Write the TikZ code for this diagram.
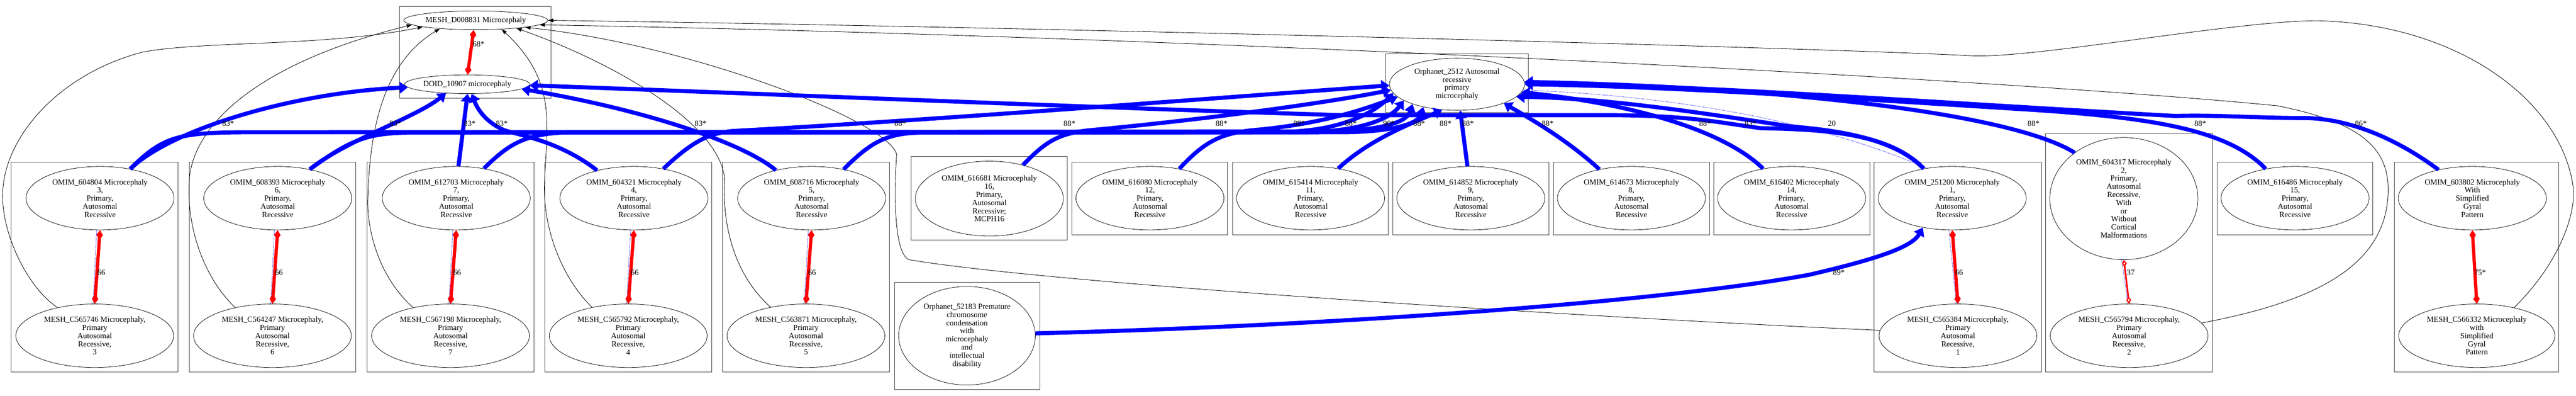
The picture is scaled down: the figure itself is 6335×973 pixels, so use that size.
\documentclass[tikz,border=0pt]{standalone}
\usepackage{fontspec}
\setmainfont{Liberation Serif}
\usetikzlibrary{shapes.geometric,arrows.meta}
\newcommand\diseasefont{\fontsize{19.3}{20}\selectfont}
\tikzset{
  grp/.style={draw=black!75, line width=1.3pt},
  disease/.style={ellipse, draw, line width=1pt, inner xsep=-20pt, inner ysep=0pt, align=center, font=\diseasefont},
  omim/.style={disease, minimum width=364pt, minimum height=156pt},
  mesh/.style={disease, minimum width=388pt, minimum height=156pt},
  isa/.style={draw, line width=1.1pt, -{Triangle[length=13pt,width=9pt]}},
  maps/.style={draw=blue, line width=10pt, -{Triangle[length=20pt,width=28pt]}},
  same/.style={draw=red, line width=8pt, {Diamond[length=24pt,width=16pt]}-{Diamond[length=24pt,width=16pt]}},
  weaksame/.style={draw=red, line width=4pt, {Diamond[open,fill=white,length=18pt,width=12pt,line width=3pt]}-{Diamond[open,fill=white,length=18pt,width=12pt,line width=3pt]}},
  weak/.style={draw=blue, line width=1.3pt, dotted},
  score/.style={font=\diseasefont, inner sep=0pt}
}
\begin{document}
\begin{tikzpicture}[x=1pt,y=-1pt]
\useasboundingbox (0,0) rectangle (6335,973);

\draw[grp] (982,16) rectangle (1355,241);
\draw[grp] (3407,132) rectangle (3759,277);
\draw[grp] (2200,694) rectangle (2558,957);
\draw[grp] (27,398) rectangle (438,914);
\draw[grp] (465,398) rectangle (875,914);
\draw[grp] (903,398) rectangle (1313,914);
\draw[grp] (1340,398) rectangle (1750,914);
\draw[grp] (1777,398) rectangle (2187,914);
\draw[grp] (2241,384) rectangle (2625,590);
\draw[grp] (2636,398) rectangle (3019,577);
\draw[grp] (3031,398) rectangle (3414,577);
\draw[grp] (3425,398) rectangle (3809,577);
\draw[grp] (3820,398) rectangle (4204,577);
\draw[grp] (4215,398) rectangle (4598,577);
\draw[grp] (4609,398) rectangle (5020,914);
\draw[grp] (5030,328) rectangle (5441,914);
\draw[grp] (5452,398) rectangle (5835,577);
\draw[grp] (5888,398) rectangle (6293,914);

\node[disease, minimum width=354pt, minimum height=46pt] (mesh0) at (1170,50) {MESH\_D008831 Microcephaly};
\node[disease, minimum width=308pt, minimum height=46pt] (doid) at (1149,207) {DOID\_10907 microcephaly};
\node[disease, minimum width=332pt, minimum height=128pt] (orph) at (3583,207) {Orphanet\_2512 Autosomal\\recessive\\primary\\microcephaly};
\node[disease, minimum width=336pt, minimum height=242pt] (orph52) at (2378,825) {Orphanet\_52183 Premature\\chromosome\\condensation\\with\\microcephaly\\and\\intellectual\\disability};

\node[omim] (o1) at (246,487) {OMIM\_604804 Microcephaly\\3,\\Primary,\\Autosomal\\Recessive};
\node[omim] (o2) at (683,487) {OMIM\_608393 Microcephaly\\6,\\Primary,\\Autosomal\\Recessive};
\node[omim] (o3) at (1122,487) {OMIM\_612703 Microcephaly\\7,\\Primary,\\Autosomal\\Recessive};
\node[omim] (o4) at (1559,487) {OMIM\_604321 Microcephaly\\4,\\Primary,\\Autosomal\\Recessive};
\node[omim] (o5) at (1996,487) {OMIM\_608716 Microcephaly\\5,\\Primary,\\Autosomal\\Recessive};
\node[omim, minimum height=184pt] (o6) at (2433,488) {OMIM\_616681 Microcephaly\\16,\\Primary,\\Autosomal\\Recessive;\\MCPH16};
\node[omim] (o7) at (2828,487) {OMIM\_616080 Microcephaly\\12,\\Primary,\\Autosomal\\Recessive};
\node[omim] (o8) at (3223,487) {OMIM\_615414 Microcephaly\\11,\\Primary,\\Autosomal\\Recessive};
\node[omim] (o9) at (3617,487) {OMIM\_614852 Microcephaly\\9,\\Primary,\\Autosomal\\Recessive};
\node[omim] (o10) at (4012,487) {OMIM\_614673 Microcephaly\\8,\\Primary,\\Autosomal\\Recessive};
\node[omim] (o11) at (4406,487) {OMIM\_616402 Microcephaly\\14,\\Primary,\\Autosomal\\Recessive};
\node[omim] (o12) at (4801,487) {OMIM\_251200 Microcephaly\\1,\\Primary,\\Autosomal\\Recessive};
\node[omim, minimum height=300pt] (o13) at (5223,488) {OMIM\_604317 Microcephaly\\2,\\Primary,\\Autosomal\\Recessive,\\With\\or\\Without\\Cortical\\Malformations};
\node[omim] (o14) at (5644,487) {OMIM\_616486 Microcephaly\\15,\\Primary,\\Autosomal\\Recessive};
\node[omim] (o15) at (6080,487) {OMIM\_603802 Microcephaly\\With\\Simplified\\Gyral\\Pattern};

\node[mesh] (m1) at (233,825) {MESH\_C565746 Microcephaly,\\Primary\\Autosomal\\Recessive,\\3};
\node[mesh] (m2) at (670,825) {MESH\_C564247 Microcephaly,\\Primary\\Autosomal\\Recessive,\\6};
\node[mesh] (m3) at (1108,825) {MESH\_C567198 Microcephaly,\\Primary\\Autosomal\\Recessive,\\7};
\node[mesh] (m4) at (1545,825) {MESH\_C565792 Microcephaly,\\Primary\\Autosomal\\Recessive,\\4};
\node[mesh] (m5) at (1982,825) {MESH\_C563871 Microcephaly,\\Primary\\Autosomal\\Recessive,\\5};
\node[mesh] (m12) at (4815,825) {MESH\_C565384 Microcephaly,\\Primary\\Autosomal\\Recessive,\\1};
\node[mesh] (m13) at (5236,825) {MESH\_C565794 Microcephaly,\\Primary\\Autosomal\\Recessive,\\2};
\node[mesh, minimum width=384pt] (m15) at (6091,825) {MESH\_C566332 Microcephaly\\with\\Simplified\\Gyral\\Pattern};

\draw[isa] (m1.143) .. controls (60,700) and (0,560) .. (7,467) .. controls (15,330) and (150,180) .. (351,128) .. controls (500,100) and (800,115) .. (mesh0.187);
\draw[isa] (m2.143) .. controls (500,680) and (460,560) .. (465,450) .. controls (470,300) and (650,150) .. (mesh0.184);
\draw[isa] (m3.143) .. controls (930,680) and (900,560) .. (905,480) .. controls (910,300) and (950,150) .. (mesh0.193);
\draw[isa] (m4.142) .. controls (1380,680) and (1335,560) .. (1339,450) .. controls (1345,300) and (1370,200) .. (mesh0.341);
\draw[isa] (m5.141) .. controls (1810,680) and (1775,560) .. (1782,440) .. controls (1770,300) and (1500,150) .. (mesh0.349);
\draw[isa] (m12.176) .. controls (4000,785) and (2600,700) .. (2235,638) .. controls (2195,620) and (2200,450) .. (2205,380) .. controls (2190,300) and (1700,110) .. (mesh0.352);
\draw[isa] (m15.37) .. controls (6300,640) and (6335,520) .. (6328,460) .. controls (6300,250) and (6050,60) .. (5702,51) .. controls (5500,50) and (5000,145) .. (4847,137) .. controls (4500,118) and (2500,65) .. (mesh0.east);
\draw[isa] (m13.10) .. controls (5700,740) and (5870,650) .. (5873,470) .. controls (5875,360) and (5800,300) .. (5601,260) .. controls (5000,200) and (3000,90) .. (mesh0.356);

\draw[maps] (o1.44) .. controls (420,318) and (720,228) .. (doid.183);
\draw[maps] (o1.44) .. controls (400,335) and (440,326) .. (600,325) -- (3150,324) .. controls (3300,323) and (3380,275) .. (orph.188);
\draw[maps] (o2.42) .. controls (850,345) and (1020,290) .. (doid.203);
\draw[maps] (o2.42) .. controls (860,345) and (900,328) .. (1000,326) -- (3200,325) .. controls (3350,324) and (3420,290) .. (orph.197);
\draw[maps] (o3.86) -- (doid.272);
\draw[maps] (o3.47) .. controls (1250,355) and (1290,328) .. (1400,325) -- (3250,323) .. controls (3400,322) and (3460,300) .. (orph.204);
\draw[maps] (o4.143) .. controls (1380,350) and (1290,335) .. (1240,320) .. controls (1195,300) and (1175,270) .. (doid.295);
\draw[maps] (o4.45) .. controls (1700,350) and (1740,328) .. (1800,322) .. controls (2300,295) and (3000,240) .. (orph.181);
\draw[maps] (o5.142) .. controls (1820,345) and (1560,265) .. (doid.355);
\draw[maps] (o5.42) .. controls (2140,350) and (2180,328) .. (2260,326) -- (3300,325) .. controls (3440,324) and (3490,300) .. (orph.214);
\draw[maps] (o6.45) .. controls (2570,350) and (2600,328) .. (2680,320) .. controls (2950,295) and (3250,255) .. (orph.185);
\draw[maps] (o7.45) .. controls (2960,350) and (3000,328) .. (3080,320) .. controls (3250,305) and (3350,270) .. (orph.192);
\draw[maps] (o8.47) .. controls (3370,340) and (3480,300) .. (orph.240);
\draw[maps] (o9.96) -- (orph.277);
\draw[maps] (o10.138) .. controls (3850,340) and (3760,290) .. (orph.338);
\draw[maps] (o11.134) .. controls (4250,330) and (4050,260) .. (orph.353);
\draw[maps] (o12.134) .. controls (4650,330) and (4500,318) .. (4330,315) .. controls (4220,300) and (4150,283) .. (3950,283) -- (3300,283) .. controls (2700,265) and (2000,235) .. (doid.359);
\draw[maps] (o12.134) .. controls (4650,330) and (4480,318) .. (4400,310) .. controls (4200,280) and (3950,240) .. (orph.348);
\draw[weak] (orph.355) .. controls (4100,235) and (4450,290) .. (o12.130);
\draw[maps] (o13.137) .. controls (4950,280) and (4400,215) .. (orph.2);
\draw[maps] (o14.135) .. controls (5480,320) and (5300,290) .. (5000,270) .. controls (4600,245) and (4100,212) .. (orph.0);
\draw[maps] (o15.140) .. controls (5900,345) and (5780,290) .. (5664,290) .. controls (5550,290) and (5450,282) .. (5350,285) .. controls (4800,255) and (4200,210) .. (orph.1);
\draw[maps] (orph52.2) .. controls (3300,800) and (4100,740) .. (4450,675) .. controls (4600,640) and (4700,610) .. (o12.225);

\draw[weak] (o1.264) -- (m1.93);
\draw[weak] (o2.264) -- (m2.93);
\draw[weak] (o3.264) -- (m3.93);
\draw[weak] (o4.264) -- (m4.93);
\draw[weak] (o5.264) -- (m5.93);
\draw[weak] (o12.264) -- (m12.93);
\draw[weak] (o13.268) -- (m13.92);
\draw[same] (mesh0.258) -- (doid.88);
\draw[same] (o1.south) -- (m1.north);
\draw[same] (o2.south) -- (m2.north);
\draw[same] (o3.south) -- (m3.north);
\draw[same] (o4.south) -- (m4.north);
\draw[same] (o5.south) -- (m5.north);
\draw[same] (o12.south) -- (m12.north);
\draw[weaksame] (o13.south) -- (m13.north);
\draw[same] (o15.south) -- (m15.north);

\node[score] (s1) at (561,303) {83*};
\node[score] (s2) at (972,303) {83*};
\node[score] (s3) at (1155,303) {83*};
\node[score] (s4) at (1234,303) {83*};
\node[score] (s5) at (1723,303) {83*};
\node[score] (s6) at (2214,303) {88*};
\node[score] (s7) at (2630,303) {88*};
\node[score] (s8) at (3004,303) {88*};
\node[score] (s9) at (3195,303) {88*};
\node[score] (s10) at (3322,303) {88*};
\node[score] (s11) at (3416,303) {90*};
\node[score] (s12) at (3490,303) {88*};
\node[score] (s13) at (3555,303) {88*};
\node[score] (s14) at (3610,303) {88*};
\node[score] (s15) at (3806,303) {88*};
\node[score] (s16) at (4193,303) {88*};
\node[score] (s17) at (4305,303) {83*};
\node[score] (s18) at (4505,303) {20};
\node[score] (s19) at (5001,303) {88*};
\node[score] (s20) at (5411,303) {88*};
\node[score] (s21) at (5806,303) {86*};
\node[score] (s22) at (4522,670) {89*};
\node[score] (s23) at (1177,108) {68*};
\node[score] (s24) at (249,670) {66};
\node[score] (s25) at (686,670) {66};
\node[score] (s26) at (1124,670) {66};
\node[score] (s27) at (1561,670) {66};
\node[score] (s28) at (1997,670) {66};
\node[score] (s29) at (4818,670) {66};
\node[score] (s30) at (5240,670) {37};
\node[score] (s31) at (6099,670) {75*};

\end{tikzpicture}
\end{document}
